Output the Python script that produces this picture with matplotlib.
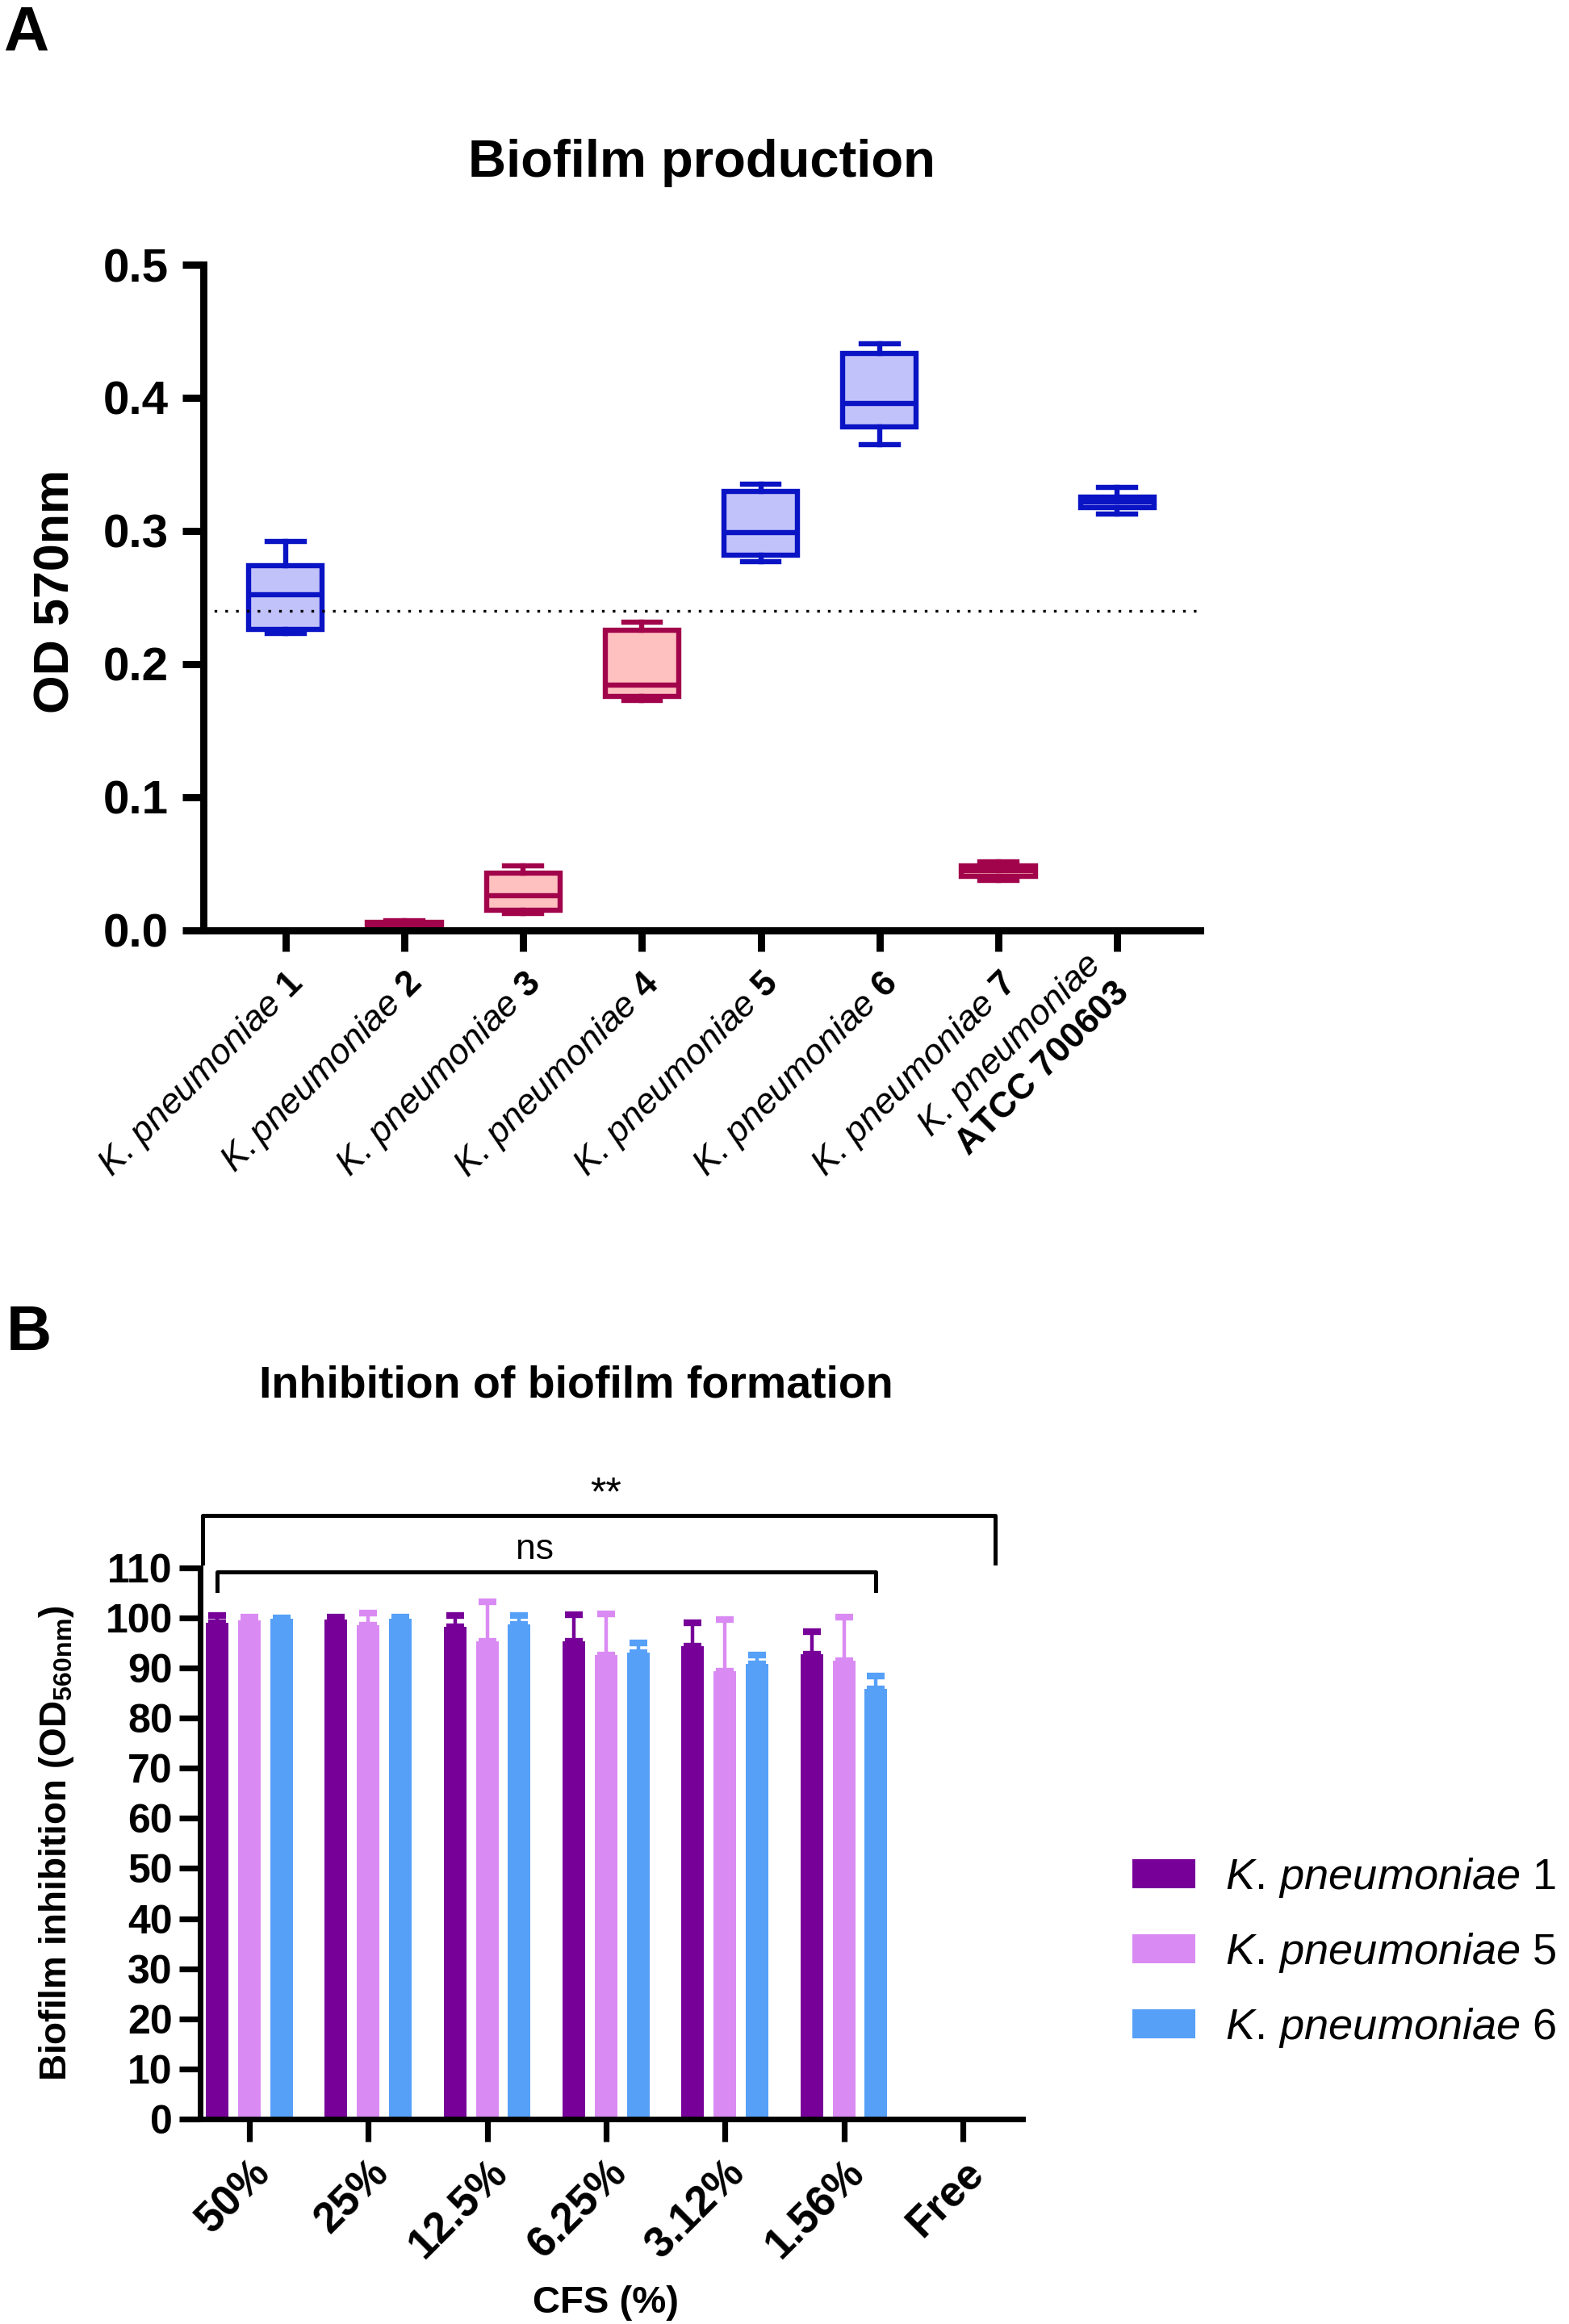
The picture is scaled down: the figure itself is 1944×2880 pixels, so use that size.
import numpy as np
import matplotlib
matplotlib.use('Agg')
import matplotlib.pyplot as plt
from matplotlib.patches import Patch

plt.rcParams['font.family'] = ['Liberation Sans', 'DejaVu Sans']
plt.rcParams['mathtext.fontset'] = 'custom'
plt.rcParams['mathtext.rm'] = 'Liberation Sans'
plt.rcParams['mathtext.it'] = 'Liberation Sans:italic'
plt.rcParams['mathtext.bf'] = 'Liberation Sans:bold'

# ---- panel A : biofilm production (box plots) ----
strain_labels = [
    r'$\mathit{K.\,pneumoniae}$ $\mathbf{1}$',
    r'$\mathit{K.pneumoniae}$ $\mathbf{2}$',
    r'$\mathit{K.\,pneumoniae}$ $\mathbf{3}$',
    r'$\mathit{K.\,pneumoniae}$ $\mathbf{4}$',
    r'$\mathit{K.\,pneumoniae}$ $\mathbf{5}$',
    r'$\mathit{K.\,pneumoniae}$ $\mathbf{6}$',
    r'$\mathit{K.\,pneumoniae}$ $\mathbf{7}$',
    r'$\mathit{K.\,pneumoniae}$  ' + '\n' + r'$\mathbf{ATCC}$ $\mathbf{700603}$  ',
]
whis_lo = [0.223, 0.001, 0.0126, 0.1728, 0.277, 0.365, 0.0376, 0.313]
q1 = [0.226, 0.002, 0.015, 0.1758, 0.282, 0.378, 0.0406, 0.3175]
med = [0.252, 0.004, 0.0262, 0.1839, 0.299, 0.3956, 0.045, 0.322]
q3 = [0.274, 0.006, 0.0429, 0.2252, 0.3295, 0.4336, 0.0487, 0.3255]
whis_hi = [0.292, 0.0074, 0.0485, 0.2316, 0.335, 0.4406, 0.0517, 0.333]
producer = [True, False, False, False, True, True, False, True]
cutoff = 0.24

# ---- panel B : inhibition of biofilm formation (bars) ----
concentrations = ['50%', '25%', '12.5%', '6.25%', '3.12%', '1.56%', 'Free']
kp1_mean = [99.0, 99.6, 98.2, 95.4, 94.35, 92.7]
kp1_sd = [1.5, 0.6, 2.2, 5.3, 4.75, 4.6]
kp5_mean = [99.5, 98.5, 95.3, 92.6, 89.4, 91.45]
kp5_sd = [0.7, 2.5, 7.9, 8.15, 10.2, 8.75]
kp6_mean = [99.8, 99.8, 98.7, 93.0, 90.8, 85.8]
kp6_sd = [0.2, 0.3, 1.7, 2.05, 1.8, 2.6]
series_names = [r'$\mathit{K.\,pneumoniae}$ 1',
                r'$\mathit{K.\,pneumoniae}$ 5',
                r'$\mathit{K.\,pneumoniae}$ 6']

blue_edge, blue_fill = '#0A14C4', '#C2C2FA'
red_edge, red_fill = '#A2044C', '#FFC0C0'
bar_colors = ['#760098', '#DA8BF3', '#56A0F8']

fig = plt.figure(figsize=(9.72, 14.4), dpi=200)

# panel A
ax_a = fig.add_axes([0.1297, 0.5997, 0.6354, 0.2864])
stats = []
for i in range(len(med)):
    stats.append({'whislo': whis_lo[i], 'q1': q1[i], 'med': med[i],
                  'q3': q3[i], 'whishi': whis_hi[i]})
bp = ax_a.bxp(stats, positions=np.arange(len(med)), widths=0.62,
              capwidths=0.31, patch_artist=True, showfliers=False)
lw = 2.3
for i in range(len(med)):
    ec = blue_edge if producer[i] else red_edge
    fc = blue_fill if producer[i] else red_fill
    bp['boxes'][i].set(facecolor=fc, edgecolor=ec, linewidth=lw)
    bp['medians'][i].set(color=ec, linewidth=lw)
    for k in (2 * i, 2 * i + 1):
        bp['whiskers'][k].set(color=ec, linewidth=lw)
        bp['caps'][k].set(color=ec, linewidth=lw)
ax_a.axhline(cutoff, color='black', linestyle=(0, (1, 3)), linewidth=1.2)
ax_a.set_xlim(-0.69, 7.7)
ax_a.set_ylim(0, 0.5)
ax_a.set_yticks(np.arange(0, 0.51, 0.1))
ax_a.set_yticklabels(['%.1f' % v for v in np.arange(0, 0.51, 0.1)],
                     fontsize=21, fontweight='bold')
ax_a.set_xticks(np.arange(len(med)))
ax_a.set_xticklabels(strain_labels, rotation=45, ha='right',
                     rotation_mode='anchor', fontsize=16)
ax_a.get_xticklabels()[-1].set_verticalalignment('center')
for s in ('top', 'right'):
    ax_a.spines[s].set_visible(False)
for s in ('left', 'bottom'):
    ax_a.spines[s].set_linewidth(3.2)
ax_a.tick_params(width=3.2, length=9.5, pad=6)
ax_a.tick_params(axis='x', pad=6)
fig.text(0.036, 0.7455, 'OD 570nm', rotation=90, ha='center', va='center',
         fontsize=22, fontweight='bold')
fig.text(0.447, 0.9297, 'Biofilm production', ha='center', va='center',
         fontsize=23.5, fontweight='bold')
fig.text(0.002, 0.998, 'A', ha='left', va='top', fontsize=28,
         fontweight='bold')

# panel B
ax_b = fig.add_axes([0.1278, 0.0882, 0.5237, 0.2372])
x = np.arange(len(kp1_mean))
offsets = [-0.27, 0.0, 0.27]
means = [kp1_mean, kp5_mean, kp6_mean]
sds = [kp1_sd, kp5_sd, kp6_sd]
for j in range(3):
    ax_b.bar(x + offsets[j], means[j], width=0.19, color=bar_colors[j],
             yerr=[np.zeros(len(x)), sds[j]], ecolor=bar_colors[j],
             error_kw={'elinewidth': 1.6, 'capsize': 4, 'capthick': 3})
ax_b.set_xlim(-0.41, 6.5)
ax_b.set_ylim(0, 110)
ax_b.set_yticks(np.arange(0, 111, 10))
ax_b.set_yticklabels([str(v) for v in range(0, 111, 10)], fontsize=18,
                     fontweight='bold')
ax_b.set_xticks(np.arange(len(concentrations)))
ax_b.set_xticklabels(concentrations, rotation=45, ha='right',
                     rotation_mode='anchor', fontsize=19, fontweight='bold')
for s in ('top', 'right'):
    ax_b.spines[s].set_visible(False)
for s in ('left', 'bottom'):
    ax_b.spines[s].set_linewidth(2.5)
ax_b.tick_params(axis='y', width=2.6, length=9.5, pad=3)
ax_b.tick_params(axis='x', width=2.6, length=10, pad=5)

# significance brackets
ax_b.plot([-0.39, -0.39, 6.275, 6.275], [110.9, 120.4, 120.4, 110.9],
          color='black', linewidth=1.8, clip_on=False)
ax_b.text(3.0, 124.5, '**', ha='center', va='center', fontsize=18)
ax_b.plot([-0.27, -0.27, 5.27, 5.27], [105.5, 109.1, 109.1, 105.5],
          color='black', linewidth=1.8, clip_on=False)
ax_b.text(2.4, 113.6, 'ns', ha='center', va='center', fontsize=16)

fig.text(0.036, 0.207, r'Biofilm inhibition (OD$_{\mathbf{560nm}}$)',
         rotation=90, ha='center', va='center', fontsize=16.5,
         fontweight='bold')
fig.text(0.386, 0.009, 'CFS (%)', ha='center', va='center', fontsize=17,
         fontweight='bold')
fig.text(0.367, 0.4035, 'Inhibition of biofilm formation', ha='center',
         va='center', fontsize=20, fontweight='bold')
fig.text(0.004, 0.439, 'B', ha='left', va='top', fontsize=28,
         fontweight='bold')

handles = [Patch(facecolor=c) for c in bar_colors]
fig.legend(handles, series_names, loc='upper left',
           bbox_to_anchor=(0.7216, 0.2014), frameon=False, fontsize=19.5,
           handlelength=1.45, handleheight=0.67, handletextpad=0.67,
           labelspacing=0.72, borderpad=0, borderaxespad=0)

fig.savefig('out.png', dpi=200)
